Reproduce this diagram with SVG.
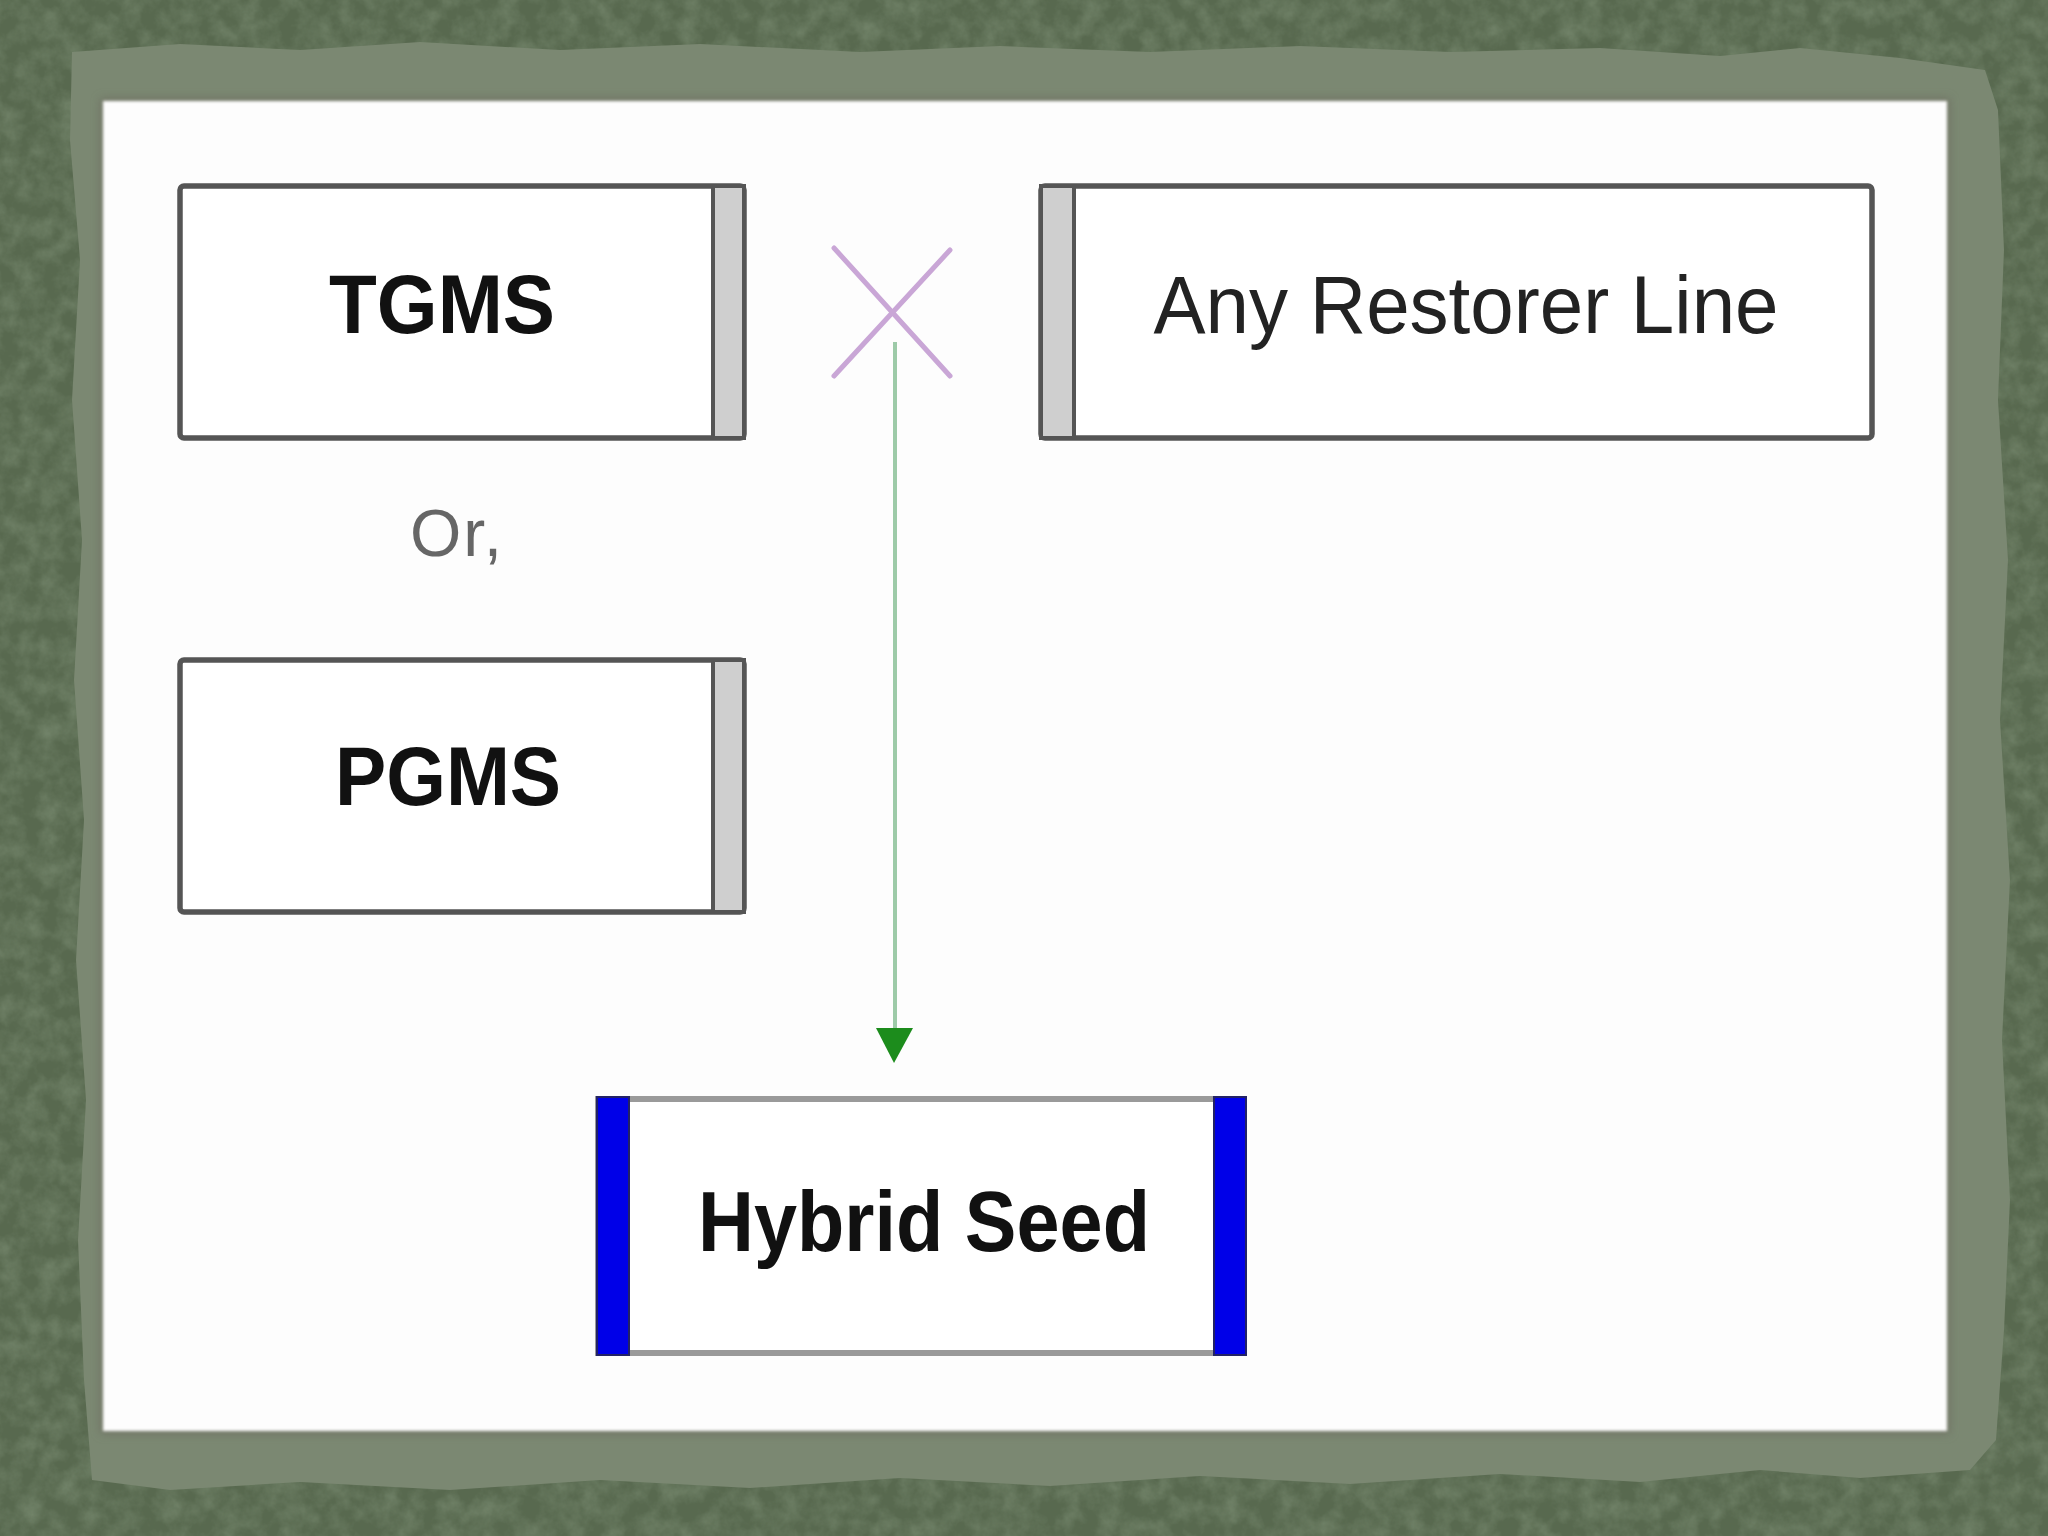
<svg xmlns="http://www.w3.org/2000/svg" width="2048" height="1536" viewBox="0 0 2048 1536">
  <defs>
    <filter id="tex" x="0" y="0" width="100%" height="100%">
      <feTurbulence type="fractalNoise" baseFrequency="0.05" numOctaves="4" seed="3" result="n"/>
      <feColorMatrix in="n" type="matrix" values="0 0 0 0 0.22  0 0 0 0 0.29  0 0 0 0 0.19  0 0 0 -1.4 0.95" result="c"/>
      <feComposite in="c" in2="SourceGraphic" operator="in"/>
    </filter>
    <filter id="soft" x="-5%" y="-5%" width="110%" height="110%">
      <feGaussianBlur stdDeviation="5"/>
    </filter>
    <filter id="blur1"><feGaussianBlur stdDeviation="1.5"/></filter>
  </defs>
  <style>
    .box { fill: #ffffff; stroke: #555555; stroke-width: 5.5; }
    .bar { fill: #cfcfcf; stroke: #555555; stroke-width: 4; }
    .bold { font-family: "Liberation Sans", Arial, sans-serif; font-weight: bold; fill: #111111; text-anchor: middle; }
    .reg { font-family: "Liberation Sans", Arial, sans-serif; fill: #222222; text-anchor: middle; }
  </style>

  <!-- textured background -->
  <rect x="0" y="0" width="2048" height="1536" fill="#58694f"/>
  <rect x="0" y="0" width="2048" height="1536" fill="#58694f" filter="url(#tex)" opacity="0.7"/>

  <!-- light torn frame -->
  <path d="M72 52 L180 44 L300 50 L420 42 L560 50 L700 44 L860 52 L1000 46 L1150 52 L1300 46 L1450 52 L1600 48 L1720 56 L1800 48 L1900 58 L1985 70 L1998 110 L2004 250 L1998 400 L2008 560 L2000 720 L2010 880 L2002 1040 L2010 1200 L2004 1330 L1996 1440 L1970 1470 L1860 1478 L1760 1470 L1640 1482 L1500 1474 L1350 1484 L1200 1476 L1050 1486 L900 1478 L750 1488 L600 1480 L450 1490 L300 1482 L170 1490 L92 1480 L84 1380 L78 1240 L86 1100 L76 960 L84 820 L74 680 L82 540 L72 400 L80 260 L70 140 Z" fill="#7b8872"/>

  <!-- white panel with soft edge -->
  <rect x="100" y="98" width="1850" height="1336" fill="#6a655b" filter="url(#soft)" opacity="0.55"/>
  <rect x="103" y="101" width="1844" height="1330" fill="#fdfdfd" filter="url(#blur1)"/>

  <!-- connectors -->
  <g id="connectors">
    <g id="cross" stroke="#c9a6d6" stroke-width="5" stroke-linecap="round">
      <line x1="834" y1="248" x2="950" y2="376"/>
      <line x1="950" y1="250" x2="834" y2="376"/>
    </g>
    <line x1="895" y1="342" x2="895" y2="1032" stroke="#9dcaa8" stroke-width="4"/>
    <polygon points="876,1028 913,1028 894,1063" fill="#1c8c1c"/>
  </g>

  <!-- TGMS -->
  <g id="tgms">
    <rect class="box" x="180" y="186" width="564" height="252" rx="4"/>
    <rect class="bar" x="713" y="186" width="31" height="252"/>
    <text class="bold" x="442" y="333" font-size="84" textLength="226" lengthAdjust="spacingAndGlyphs">TGMS</text>
  </g>

  <!-- Or, -->
  <g id="or">
    <text x="410" y="556" font-family="Liberation Sans, Arial, sans-serif" font-size="66" fill="#666666" textLength="92" lengthAdjust="spacing">Or,</text>
  </g>

  <!-- PGMS -->
  <g id="pgms">
    <rect class="box" x="180" y="660" width="564" height="252" rx="4"/>
    <rect class="bar" x="713" y="660" width="31" height="252"/>
    <text class="bold" x="448" y="805" font-size="84" textLength="226" lengthAdjust="spacingAndGlyphs">PGMS</text>
  </g>

  <!-- Any Restorer Line -->
  <g id="restorer">
    <rect class="box" x="1041" y="186" width="831" height="252" rx="4"/>
    <rect class="bar" x="1041" y="186" width="33" height="252"/>
    <text class="reg" x="1466" y="333" font-size="82" textLength="625" lengthAdjust="spacingAndGlyphs">Any Restorer Line</text>
  </g>

  <!-- Hybrid Seed -->
  <g id="hybrid">
    <rect x="598" y="1099" width="646" height="254" fill="#ffffff" stroke="#9a9a9a" stroke-width="6"/>
    <rect x="597" y="1097" width="32" height="258" fill="#0000e8" stroke="#222266" stroke-width="2"/>
    <rect x="1214" y="1097" width="32" height="258" fill="#0000e8" stroke="#222266" stroke-width="2"/>
    <text class="bold" x="924" y="1251" font-size="86" textLength="452" lengthAdjust="spacingAndGlyphs">Hybrid Seed</text>
  </g>
</svg>
